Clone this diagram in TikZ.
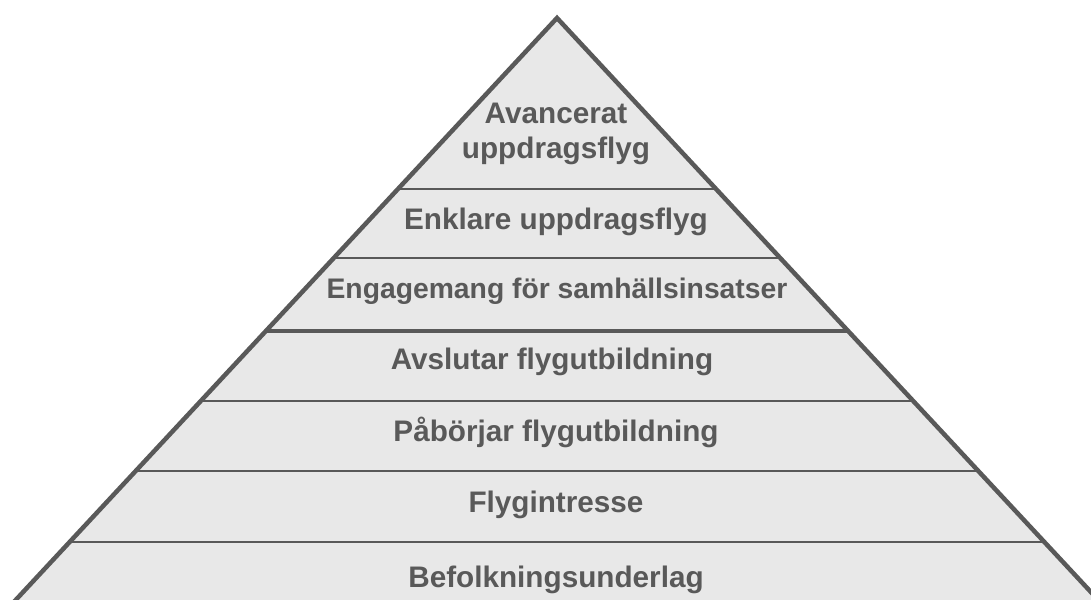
\documentclass[tikz,border=0pt]{standalone}
\usepackage{fontspec}
\setmainfont{Liberation Sans}
\definecolor{pyrline}{HTML}{595959}
\definecolor{pyrfill}{HTML}{E8E8E8}

\begin{document}
\begin{tikzpicture}[x=1pt, y=-1pt, lvl/.style={font=\bfseries\fontsize{29.7}{35}\selectfont, text=pyrline, anchor=base, align=center, inner sep=0pt}, sep/.style={draw=pyrline, line width=2.6pt}]
\clip (0,0) rectangle (1091,599);
\coordinate (top) at (557,18);
\coordinate (bl) at (-21.5,640);
\coordinate (br) at (1135.5,640);
\fill[pyrfill] (top) -- (bl) -- (br) -- cycle;
% level borders
\foreach \y in {189,258,401,471,542}
  \draw[sep] ({557-0.93*(\y-18)},\y) -- ({557+0.93*(\y-18)},\y);
\draw[sep, line width=4.2pt] ({557-0.93*313},331) -- ({557+0.93*313},331);
\draw[pyrline, line width=4.5pt] (bl) -- (top) -- (br);
% labels
\node[lvl] (adv) at (556,158) {Avancerat\\uppdragsflyg};
\node[lvl] (easy) at (556,229) {Enklare uppdragsflyg};
\node[lvl, font=\bfseries\fontsize{28.3}{34}\selectfont] (engage) at (557,298) {Engagemang för samhällsinsatser};
\node[lvl] (ends) at (552,369) {Avslutar flygutbildning};
\node[lvl] (starts) at (556,441) {Påbörjar flygutbildning};
\node[lvl] (interest) at (556,512) {Flygintresse};
\node[lvl] (base) at (556,587) {Befolkningsunderlag};
\end{tikzpicture}
\end{document}
